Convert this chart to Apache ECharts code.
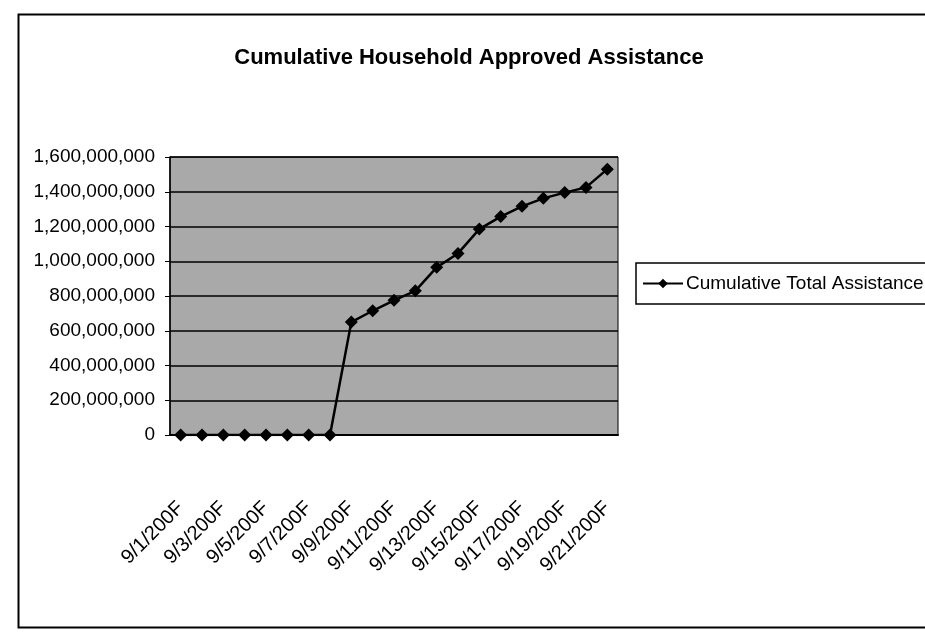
<!DOCTYPE html>
<html lang="en">
<head>
  <meta charset="UTF-8">
  <title>Cumulative Household Approved Assistance</title>
  <script src="https://cdn.jsdelivr.net/npm/echarts@6/dist/echarts.min.js"></script>
  <style>
    html, body { margin: 0; padding: 0; background: #fff; }
    #chart { width: 925px; height: 633px; }
  </style>
</head>
<body>
<div id="chart"></div>
<script>
  // dates as printed on the axis (year cut off in the scan)
  const days = ['9/1/200F', '9/2/200F', '9/3/200F', '9/4/200F', '9/5/200F', '9/6/200F', '9/7/200F',
    '9/8/200F', '9/9/200F', '9/10/200F', '9/11/200F', '9/12/200F', '9/13/200F', '9/14/200F',
    '9/15/200F', '9/16/200F', '9/17/200F', '9/18/200F', '9/19/200F', '9/20/200F', '9/21/200F'];
  // cumulative total assistance
  const totals = [0, 0, 0, 0, 0, 0, 0, 0,
    650000000, 715000000, 775000000, 830000000, 965000000, 1045000000,
    1185000000, 1257000000, 1316000000, 1362000000, 1395000000, 1425000000, 1530000000];
  const yTicks = [0, 1600000000, 200000000];  // min, max, step

  // no narrow font installed, so sizes are picked to match the text widths
  const font = "'Liberation Sans', Arial, sans-serif";

  const chart = echarts.init(document.getElementById('chart'));
  chart.setOption({
    animation: false,
    backgroundColor: '#fff',
    textStyle: { fontFamily: font, color: '#000' },
    title: {
      text: 'Cumulative Household Approved Assistance',
      left: 464, top: 42, textAlign: 'center',
      textStyle: { fontFamily: font, fontSize: 22, fontWeight: 'bold', color: '#000' }
    },
    graphic: [{
      type: 'rect', left: 16, top: 12,
      shape: { width: 930, height: 613 },
      style: { fill: 'none', stroke: '#000', lineWidth: 2 }
    }],
    legend: {
      left: 636, top: 263,
      padding: [11, 8, 11, 6],
      borderColor: '#000', borderWidth: 1.5,
      itemWidth: 40, itemHeight: 12, itemGap: 4,
      textStyle: { fontFamily: font, fontSize: 19, color: '#000', padding: [0, 0, 0, -2] },
      data: ['Cumulative Total Assistance']
    },
    grid: {
      left: 170, right: 307, top: 157, bottom: 198,
      show: true, backgroundColor: '#a9a9a9', borderColor: '#000', borderWidth: 1
    },
    xAxis: {
      type: 'category',
      data: days,
      boundaryGap: true,
      axisLine: { lineStyle: { color: '#000', width: 2 } },
      axisTick: { interval: 1, length: 6, lineStyle: { color: '#000', width: 1.5 } },
      axisLabel: {
        interval: 1, rotate: 45, margin: 70,
        fontFamily: font, fontSize: 20, color: '#000'
      },
      splitLine: { show: false }
    },
    yAxis: {
      type: 'value',
      min: yTicks[0], max: yTicks[1], interval: yTicks[2],
      axisLine: { show: true, lineStyle: { color: '#000', width: 1.5 } },
      axisTick: { show: true, length: 5, lineStyle: { color: '#000' } },
      axisLabel: {
        margin: 15, fontFamily: font, fontSize: 19, color: '#000',
        formatter: v => v.toLocaleString('en-US')
      },
      splitLine: { lineStyle: { color: '#000', width: 1.5 } }
    },
    series: [{
      name: 'Cumulative Total Assistance',
      type: 'line',
      data: totals,
      symbol: 'diamond',
      symbolSize: 13,
      lineStyle: { color: '#000', width: 2.5 },
      itemStyle: { color: '#000' }
    }]
  });
</script>
</body>
</html>
